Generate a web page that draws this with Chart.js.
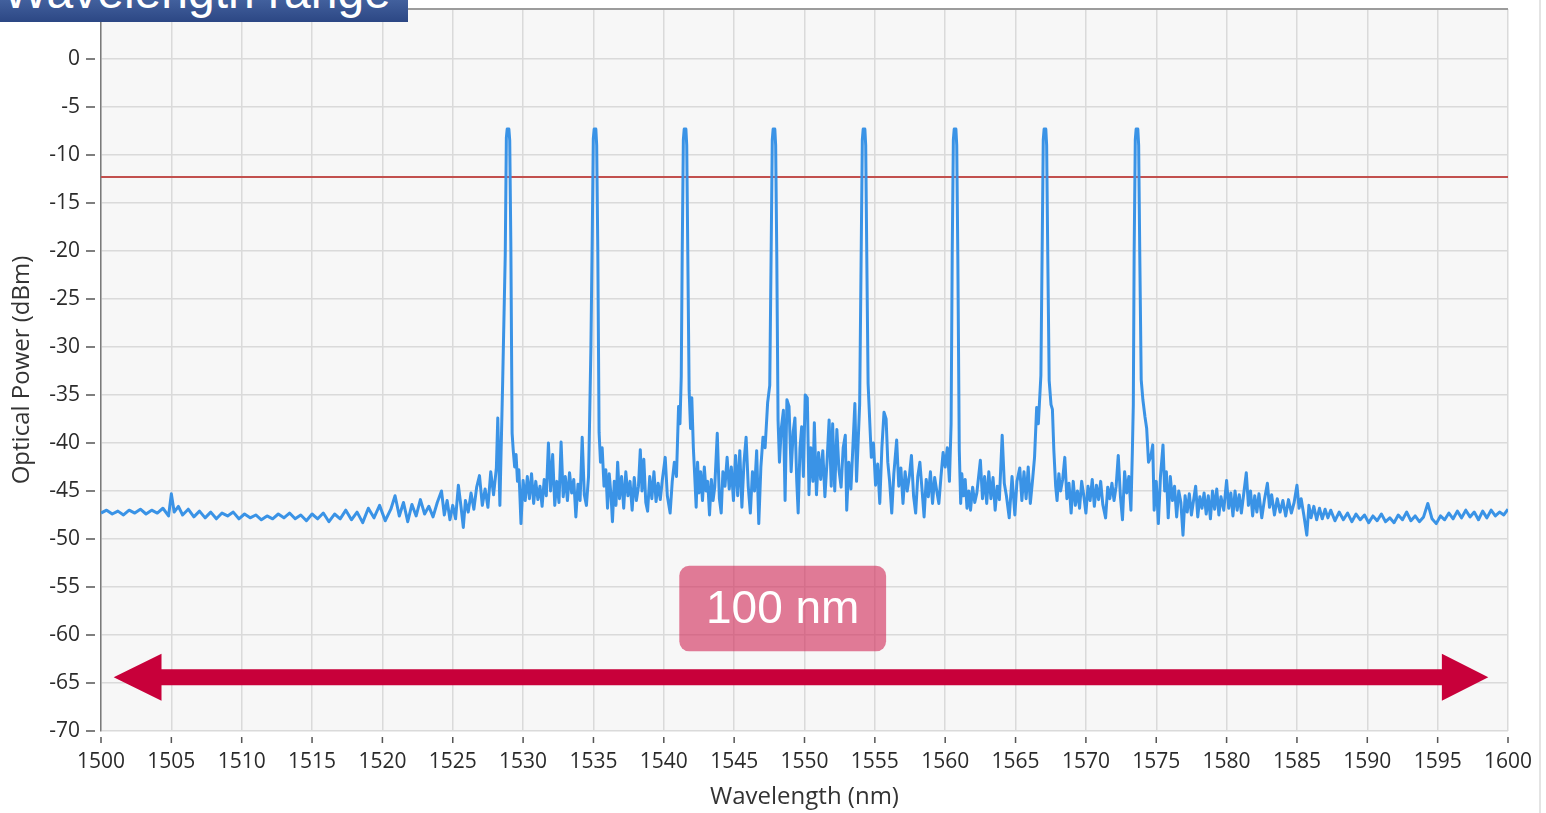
<!DOCTYPE html>
<html>
<head>
<meta charset="utf-8">
<script src="https://cdn.jsdelivr.net/npm/chart.js@4.4.1/dist/chart.umd.min.js"></script>
<style>
  html, body { margin: 0; padding: 0; background: #fff; }
  #wrap { position: relative; width: 1546px; height: 813px; overflow: hidden; }
  #osa { position: absolute; left: 0; top: 0; }
  #banner {
    position: absolute; left: 0; top: 0; width: 408px; height: 22px; overflow: hidden;
    background: linear-gradient(#42609d, #2c4784);
  }
  #banner span {
    position: absolute; left: 3px; top: -36px; line-height: 48px;
    font: 48px "Liberation Sans", Arial, sans-serif; color: #fff; white-space: nowrap;
  }
  #edge { position: absolute; left: 1539px; top: 0; width: 2px; height: 813px; background: #e4e4e4; }
</style>
</head>
<body>
<div id="wrap">
  <canvas id="osa" width="1546" height="813"></canvas>
  <div id="banner"><span>Wavelength range</span></div>
  <div id="edge"></div>
</div>
<script>
// OSA trace: [wavelength nm, power dBm]
const spectrum = [
  [1500.0,-47.3],[1500.4,-47.0],[1500.8,-47.4],[1501.2,-47.1],[1501.6,-47.5],[1502.0,-47.0],[1502.4,-47.3],[1502.8,-46.9],
  [1503.2,-47.4],[1503.6,-47.0],[1504.0,-47.3],[1504.4,-46.8],[1504.8,-47.6],[1505.0,-45.3],[1505.2,-47.2],[1505.5,-46.6],
  [1505.8,-47.5],[1506.2,-46.9],[1506.6,-47.7],[1507.0,-47.1],[1507.4,-47.8],[1507.8,-47.2],[1508.2,-47.9],[1508.6,-47.3],
  [1509.0,-47.6],[1509.4,-47.2],[1509.8,-47.9],[1510.2,-47.4],[1510.6,-47.8],[1511.0,-47.5],[1511.4,-48.0],[1511.8,-47.6],
  [1512.2,-47.9],[1512.6,-47.4],[1513.0,-47.8],[1513.4,-47.3],[1513.8,-47.9],[1514.2,-47.5],[1514.6,-48.1],[1515.0,-47.4],
  [1515.4,-47.9],[1515.8,-47.3],[1516.2,-48.2],[1516.6,-47.4],[1517.0,-47.9],[1517.4,-47.0],[1517.8,-48.0],[1518.2,-47.2],
  [1518.6,-48.3],[1519.0,-46.8],[1519.4,-47.8],[1519.8,-46.5],[1520.2,-48.1],[1520.6,-46.9],[1520.9,-45.5],[1521.2,-47.6],
  [1521.5,-46.2],[1521.8,-48.2],[1522.1,-46.4],[1522.4,-47.6],[1522.7,-45.9],[1523.0,-47.4],[1523.3,-46.6],[1523.6,-47.7],
  [1523.9,-46.2],[1524.2,-45.0],[1524.4,-47.5],[1524.6,-46.0],[1524.8,-48.0],[1525.0,-46.5],[1525.2,-47.9],[1525.4,-44.4],
  [1525.6,-46.8],[1525.75,-48.8],[1525.9,-46.0],[1526.1,-47.2],[1526.3,-45.2],[1526.5,-46.9],[1526.7,-44.6],[1526.9,-43.4],
  [1527.1,-46.5],[1527.3,-44.8],[1527.5,-46.7],[1527.7,-43.0],[1527.9,-45.4],[1528.1,-42.6],[1528.2,-37.4],[1528.35,-46.5],
  [1528.55,-33.5],[1528.73,-20.5],[1528.81,-8.2],[1528.87,-7.3],[1528.99,-7.3],[1529.05,-8.5],[1529.13,-19.5],[1529.22,-39.0],
  [1529.3,-40.8],[1529.4,-42.5],[1529.5,-41.2],[1529.6,-44.0],[1529.7,-42.8],[1529.85,-48.4],[1530.0,-43.9],[1530.15,-46.0],
  [1530.3,-43.5],[1530.45,-45.8],[1530.6,-43.2],[1530.75,-46.3],[1530.9,-44.0],[1531.05,-45.9],[1531.2,-44.5],[1531.35,-46.6],
  [1531.5,-43.8],[1531.65,-45.5],[1531.8,-40.0],[1531.95,-45.0],[1532.1,-41.2],[1532.25,-46.5],[1532.4,-44.0],[1532.55,-46.2],
  [1532.7,-39.9],[1532.85,-45.6],[1533.0,-43.5],[1533.15,-46.0],[1533.3,-43.1],[1533.45,-45.2],[1533.6,-43.8],[1533.75,-47.7],
  [1533.9,-44.3],[1534.05,-46.0],[1534.2,-39.4],[1534.35,-45.4],[1534.5,-46.5],[1534.65,-43.5],[1534.72,-38.2],[1534.82,-30.0],
  [1534.91,-19.0],[1534.99,-8.3],[1535.05,-7.3],[1535.17,-7.3],[1535.23,-9.0],[1535.31,-20.0],[1535.4,-38.9],[1535.5,-42.0],
  [1535.62,-40.5],[1535.75,-44.5],[1535.88,-42.8],[1536.0,-46.8],[1536.12,-43.2],[1536.25,-45.5],[1536.35,-48.2],[1536.48,-44.0],
  [1536.6,-46.5],[1536.72,-42.0],[1536.85,-45.8],[1537.0,-43.5],[1537.15,-46.8],[1537.3,-43.0],[1537.45,-45.5],[1537.6,-44.0],
  [1537.75,-47.0],[1537.9,-43.6],[1538.05,-46.0],[1538.2,-44.5],[1538.33,-40.7],[1538.45,-45.0],[1538.58,-41.7],[1538.72,-46.2],
  [1538.85,-47.1],[1539.0,-43.5],[1539.15,-45.8],[1539.3,-43.0],[1539.45,-46.1],[1539.6,-44.2],[1539.75,-45.9],[1539.9,-43.8],
  [1540.1,-41.5],[1540.25,-45.5],[1540.45,-47.3],[1540.6,-44.0],[1540.75,-42.0],[1540.9,-43.5],[1541.05,-36.2],[1541.15,-38.0],
  [1541.24,-33.1],[1541.31,-20.0],[1541.39,-8.4],[1541.45,-7.3],[1541.57,-7.3],[1541.63,-9.0],[1541.71,-21.0],[1541.8,-34.5],
  [1541.9,-38.5],[1541.99,-35.3],[1542.1,-40.5],[1542.2,-43.5],[1542.3,-46.7],[1542.4,-42.0],[1542.5,-45.2],[1542.62,-43.0],
  [1542.75,-46.0],[1542.88,-42.5],[1543.0,-45.0],[1543.12,-44.0],[1543.25,-47.5],[1543.38,-43.8],[1543.5,-46.0],[1543.62,-44.6],
  [1543.8,-39.0],[1543.95,-45.8],[1544.08,-47.3],[1544.2,-43.0],[1544.35,-44.5],[1544.5,-41.5],[1544.65,-44.8],[1544.8,-42.5],
  [1544.95,-46.0],[1545.1,-41.3],[1545.25,-45.5],[1545.4,-40.8],[1545.55,-46.7],[1545.7,-42.0],[1545.85,-39.4],[1546.0,-44.5],
  [1546.15,-47.3],[1546.3,-43.0],[1546.45,-45.0],[1546.6,-40.8],[1546.75,-48.4],[1546.9,-42.5],[1547.05,-39.4],[1547.2,-40.5],
  [1547.38,-35.8],[1547.53,-34.0],[1547.63,-20.0],[1547.71,-8.4],[1547.77,-7.3],[1547.89,-7.3],[1547.95,-9.0],[1548.03,-20.5],
  [1548.12,-37.6],[1548.22,-42.0],[1548.35,-38.5],[1548.5,-36.6],[1548.62,-46.0],[1548.75,-35.5],[1548.9,-36.2],[1549.05,-43.0],
  [1549.2,-38.8],[1549.32,-37.4],[1549.45,-44.0],[1549.55,-47.3],[1549.68,-40.5],[1549.8,-38.3],[1549.92,-43.5],[1550.05,-35.0],
  [1550.2,-35.3],[1550.32,-45.4],[1550.45,-40.5],[1550.6,-44.0],[1550.7,-37.9],[1550.85,-45.4],[1551.0,-41.0],[1551.15,-43.8],
  [1551.3,-40.8],[1551.45,-45.6],[1551.6,-42.0],[1551.75,-37.6],[1551.9,-44.5],[1552.0,-38.0],[1552.15,-45.0],[1552.3,-38.6],
  [1552.45,-42.8],[1552.6,-44.6],[1552.75,-40.5],[1552.9,-39.2],[1553.0,-47.0],[1553.15,-42.0],[1553.3,-44.8],[1553.42,-41.0],
  [1553.58,-35.9],[1553.7,-44.0],[1553.92,-36.0],[1554.03,-20.0],[1554.11,-8.4],[1554.17,-7.3],[1554.29,-7.3],[1554.35,-9.0],
  [1554.43,-21.0],[1554.52,-33.8],[1554.64,-37.9],[1554.75,-41.5],[1554.9,-40.0],[1555.05,-44.4],[1555.2,-42.2],[1555.35,-46.3],
  [1555.5,-40.5],[1555.65,-36.8],[1555.8,-37.5],[1555.92,-42.0],[1556.05,-44.0],[1556.2,-47.3],[1556.35,-43.2],[1556.55,-39.7],
  [1556.7,-44.5],[1556.85,-42.6],[1557.0,-46.3],[1557.15,-43.0],[1557.3,-45.0],[1557.45,-43.5],[1557.6,-41.3],[1557.75,-45.5],
  [1557.9,-47.3],[1558.05,-43.5],[1558.2,-42.0],[1558.35,-44.8],[1558.5,-47.7],[1558.65,-43.8],[1558.8,-45.6],[1558.95,-43.0],
  [1559.1,-46.3],[1559.25,-43.6],[1559.4,-45.0],[1559.55,-46.3],[1559.7,-43.5],[1559.85,-41.0],[1560.0,-42.5],[1560.15,-40.5],
  [1560.3,-44.0],[1560.42,-38.0],[1560.5,-20.0],[1560.58,-8.4],[1560.64,-7.3],[1560.76,-7.3],[1560.82,-9.0],[1560.9,-21.0],
  [1561.0,-40.7],[1561.1,-46.3],[1561.18,-43.2],[1561.3,-45.5],[1561.42,-43.8],[1561.55,-46.8],[1561.68,-45.0],[1561.8,-47.0],
  [1561.95,-44.6],[1562.1,-46.2],[1562.25,-45.2],[1562.5,-41.8],[1562.65,-45.8],[1562.8,-43.5],[1562.95,-46.3],[1563.1,-43.0],
  [1563.25,-45.8],[1563.4,-43.6],[1563.55,-47.0],[1563.7,-44.5],[1563.85,-45.9],[1564.05,-39.2],[1564.2,-44.2],[1564.35,-45.5],
  [1564.55,-47.8],[1564.75,-43.5],[1564.95,-47.5],[1565.1,-44.0],[1565.3,-42.6],[1565.45,-46.0],[1565.6,-43.0],[1565.75,-45.8],
  [1565.9,-42.5],[1566.05,-46.3],[1566.2,-44.0],[1566.35,-41.5],[1566.5,-36.3],[1566.62,-38.0],[1566.8,-33.0],[1566.89,-20.0],
  [1566.97,-8.4],[1567.03,-7.3],[1567.15,-7.3],[1567.21,-9.0],[1567.29,-20.5],[1567.39,-33.5],[1567.52,-36.0],[1567.62,-36.5],
  [1567.72,-40.7],[1567.85,-44.5],[1567.95,-46.0],[1568.08,-43.2],[1568.2,-45.0],[1568.35,-43.8],[1568.5,-41.5],[1568.65,-45.8],
  [1568.8,-44.2],[1568.95,-47.3],[1569.1,-44.0],[1569.25,-46.5],[1569.4,-45.0],[1569.55,-46.8],[1569.7,-44.0],[1569.85,-45.5],
  [1570.0,-47.3],[1570.15,-44.5],[1570.3,-46.0],[1570.45,-43.8],[1570.6,-46.6],[1570.75,-44.4],[1570.9,-45.9],[1571.05,-44.0],
  [1571.2,-46.4],[1571.4,-47.8],[1571.55,-44.6],[1571.7,-45.8],[1571.85,-44.2],[1572.0,-46.0],[1572.15,-44.5],[1572.3,-41.3],
  [1572.45,-45.5],[1572.6,-48.0],[1572.75,-43.0],[1572.9,-45.2],[1573.05,-43.5],[1573.2,-47.0],[1573.3,-41.0],[1573.37,-36.0],
  [1573.43,-20.0],[1573.51,-8.4],[1573.57,-7.3],[1573.69,-7.3],[1573.75,-9.0],[1573.83,-20.5],[1573.93,-33.4],[1574.05,-35.5],
  [1574.2,-37.3],[1574.32,-38.5],[1574.45,-42.0],[1574.6,-41.5],[1574.75,-40.2],[1574.85,-47.0],[1575.0,-44.0],[1575.15,-48.4],
  [1575.3,-43.5],[1575.48,-40.2],[1575.6,-45.0],[1575.72,-43.0],[1575.85,-47.8],[1576.0,-43.5],[1576.15,-46.0],[1576.3,-44.5],
  [1576.45,-47.7],[1576.6,-45.0],[1576.75,-46.2],[1576.9,-49.6],[1577.05,-45.5],[1577.2,-47.2],[1577.35,-45.3],[1577.5,-47.5],
  [1577.65,-46.0],[1577.8,-44.5],[1577.95,-47.7],[1578.1,-45.6],[1578.25,-46.8],[1578.4,-45.2],[1578.55,-47.4],[1578.7,-45.5],
  [1578.85,-47.9],[1579.0,-45.0],[1579.15,-46.9],[1579.3,-44.8],[1579.45,-47.5],[1579.6,-45.6],[1579.8,-47.0],[1580.0,-43.9],
  [1580.15,-46.8],[1580.3,-45.2],[1580.45,-47.6],[1580.6,-45.0],[1580.75,-47.0],[1580.9,-45.4],[1581.05,-47.3],[1581.2,-45.5],
  [1581.4,-43.1],[1581.55,-46.5],[1581.7,-45.0],[1581.85,-47.6],[1582.0,-45.5],[1582.15,-47.2],[1582.3,-45.3],[1582.5,-47.8],
  [1582.7,-45.8],[1582.9,-44.2],[1583.05,-46.7],[1583.2,-45.4],[1583.4,-47.5],[1583.6,-45.8],[1583.8,-47.2],[1584.0,-46.0],
  [1584.2,-47.6],[1584.4,-45.9],[1584.6,-47.3],[1584.8,-46.2],[1585.0,-44.4],[1585.15,-46.8],[1585.3,-45.8],[1585.5,-47.6],
  [1585.7,-49.6],[1585.85,-46.5],[1586.0,-47.8],[1586.2,-46.6],[1586.4,-48.0],[1586.6,-46.8],[1586.8,-47.9],[1587.0,-46.9],
  [1587.2,-47.8],[1587.4,-47.0],[1587.7,-48.1],[1588.0,-47.2],[1588.3,-48.0],[1588.6,-47.3],[1588.9,-48.2],[1589.2,-47.4],
  [1589.5,-48.0],[1589.8,-47.5],[1590.1,-48.3],[1590.4,-47.6],[1590.7,-48.1],[1591.0,-47.4],[1591.3,-48.2],[1591.6,-47.8],
  [1591.9,-48.3],[1592.2,-47.5],[1592.5,-48.0],[1592.8,-47.2],[1593.1,-48.1],[1593.4,-47.6],[1593.7,-48.2],[1594.0,-47.7],
  [1594.3,-46.3],[1594.6,-47.9],[1594.9,-48.4],[1595.2,-47.6],[1595.5,-48.0],[1595.8,-47.3],[1596.1,-47.9],[1596.4,-47.1],
  [1596.7,-47.8],[1597.0,-47.0],[1597.3,-47.7],[1597.6,-47.2],[1597.9,-48.0],[1598.2,-47.1],[1598.5,-47.8],[1598.8,-47.0],
  [1599.1,-47.6],[1599.4,-47.2],[1599.7,-47.5],[1600.0,-46.9]
];
const thresholdDbm = -12.3;
const wlRange = [1500, 1600];
const powerRange = [-70, 5.2];

// overlay: double arrow + "100 nm" badge, placed in data units
const arrowTips = [1500.9, 1598.6];
const arrowHeadBase = [1504.3, 1595.3];
const arrowLevel = -64.4;
const badgeBox = { x0: 1541.1, x1: 1555.8, y0: -52.8, y1: -61.7 };
const badgeText = '100 nm';

const FONT = '"Open Sans", "DejaVu Sans", sans-serif';

const plotBg = {
  id: 'plotBg',
  beforeDraw(chart) {
    const { ctx, chartArea: a } = chart;
    ctx.save();
    ctx.fillStyle = '#f7f7f7';
    ctx.fillRect(a.left, a.top, a.right - a.left, a.bottom - a.top);
    ctx.restore();
  },
  afterDraw(chart) {
    const { ctx, chartArea: a, scales: { x, y } } = chart;
    ctx.save();
    // top frame line
    ctx.strokeStyle = '#9c9c9c';
    ctx.lineWidth = 2;
    ctx.beginPath();
    ctx.moveTo(a.left, a.top);
    ctx.lineTo(a.right, a.top);
    ctx.stroke();
    // tick marks, detached from the axis like the original
    ctx.strokeStyle = '#555';
    ctx.lineWidth = 1.5;
    ctx.beginPath();
    x.ticks.forEach(t => {
      const px = x.getPixelForValue(t.value);
      ctx.moveTo(px, a.bottom + 6);
      ctx.lineTo(px, a.bottom + 12);
    });
    y.ticks.forEach(t => {
      const py = y.getPixelForValue(t.value);
      ctx.moveTo(a.left - 15, py);
      ctx.lineTo(a.left - 6, py);
    });
    ctx.stroke();
    ctx.restore();
  }
};

const spanOverlay = {
  id: 'spanOverlay',
  afterDatasetsDraw(chart) {
    const { ctx, scales: { x, y } } = chart;
    ctx.save();
    // badge
    const bx0 = x.getPixelForValue(badgeBox.x0), bx1 = x.getPixelForValue(badgeBox.x1);
    const by0 = y.getPixelForValue(badgeBox.y0), by1 = y.getPixelForValue(badgeBox.y1);
    ctx.fillStyle = 'rgba(210, 45, 90, 0.62)';
    ctx.beginPath();
    ctx.roundRect(bx0, by0, bx1 - bx0, by1 - by0, 10);
    ctx.fill();
    ctx.fillStyle = '#fff';
    ctx.font = '46px "Liberation Sans", Arial, sans-serif';
    ctx.textAlign = 'center';
    ctx.textBaseline = 'middle';
    ctx.fillText(badgeText, (bx0 + bx1) / 2, (by0 + by1) / 2 + 2);
    // arrow
    const ay = y.getPixelForValue(arrowLevel);
    const l = x.getPixelForValue(arrowTips[0]), r = x.getPixelForValue(arrowTips[1]);
    const lb = x.getPixelForValue(arrowHeadBase[0]), rb = x.getPixelForValue(arrowHeadBase[1]);
    const half = 8, head = 23.5;
    ctx.fillStyle = '#c8003a';
    ctx.beginPath();
    ctx.moveTo(l, ay);
    ctx.lineTo(lb, ay - head);
    ctx.lineTo(lb, ay - half);
    ctx.lineTo(rb, ay - half);
    ctx.lineTo(rb, ay - head);
    ctx.lineTo(r, ay);
    ctx.lineTo(rb, ay + head);
    ctx.lineTo(rb, ay + half);
    ctx.lineTo(lb, ay + half);
    ctx.lineTo(lb, ay + head);
    ctx.closePath();
    ctx.fill();
    ctx.restore();
  }
};

new Chart(document.getElementById('osa'), {
  type: 'line',
  data: {
    datasets: [
      {
        data: spectrum.map(([nm, dbm]) => ({ x: nm, y: dbm })),
        borderColor: '#3a93e6',
        borderWidth: 3,
        borderJoinStyle: 'round',
        pointRadius: 0,
        tension: 0
      },
      {
        data: wlRange.map(nm => ({ x: nm, y: thresholdDbm })),
        borderColor: '#c2504e',
        borderWidth: 2,
        pointRadius: 0
      }
    ]
  },
  options: {
    responsive: false,
    animation: false,
    layout: { padding: { left: 0, top: 9, right: 38, bottom: 0 } },
    plugins: { legend: { display: false }, tooltip: { enabled: false } },
    scales: {
      x: {
        type: 'linear',
        min: wlRange[0],
        max: wlRange[1],
        afterFit: s => { s.height = 82; s.paddingLeft = 0; s.paddingRight = 0; },
        border: { display: false },
        grid: { color: '#dadada', lineWidth: 1.5, drawTicks: false },
        ticks: {
          stepSize: 5, autoSkip: false, maxRotation: 0, padding: 18,
          color: '#2b2b2b', font: { family: FONT, size: 21 },
          callback: v => String(v)
        },
        title: {
          display: true, text: 'Wavelength (nm)', color: '#333',
          font: { family: FONT, size: 24 }, padding: { top: 0, bottom: 1 }
        }
      },
      y: {
        min: powerRange[0],
        max: powerRange[1],
        afterFit: s => { s.width = 101; s.paddingTop = 0; s.paddingBottom = 0; },
        afterBuildTicks: s => { s.ticks = s.ticks.filter(t => t.value <= 0); },
        border: { display: true, color: '#7a7a7a', width: 1.5 },
        grid: { color: '#dadada', lineWidth: 1.5, drawTicks: false },
        ticks: {
          stepSize: 5, padding: 21,
          color: '#2b2b2b', font: { family: FONT, size: 21 }
        },
        title: {
          display: true, text: 'Optical Power (dBm)', color: '#333',
          font: { family: FONT, size: 24 }, padding: { top: 8, bottom: 0 }
        }
      }
    }
  },
  plugins: [plotBg, spanOverlay]
});
</script>
</body>
</html>
